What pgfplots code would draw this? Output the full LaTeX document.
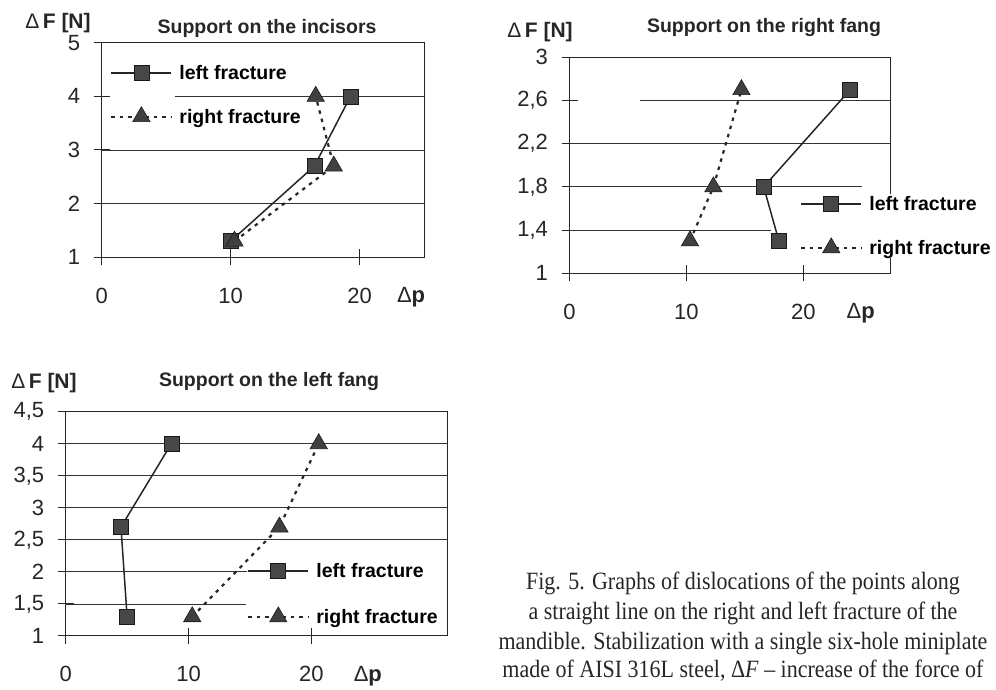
\documentclass[border=0pt]{standalone}
\usepackage{pgfplots}
\pgfplotsset{compat=1.18}
\usepackage{fontspec}
\setmainfont{Liberation Sans}
\newfontfamily\capfont{Liberation Serif}

\tikzset{gridl/.style={black!80, line width=0.9pt}}
\pgfplotsset{
  fracax/.style={
    scale only axis, anchor=south west,
    axis line style={black!85, line width=1pt},
    tick align=center, major tick length=16pt, tick pos=left,
    tick style={black!85, line width=1pt},
    xtick={0,10,20},
    xticklabels={0,10,20},
    ticklabel style={font=\fontsize{22}{22}\selectfont, text=black!85},
    xticklabel style={yshift=-19pt},
    yticklabel style={xshift=-10pt},
    extra x ticks={24},
    extra x tick labels={\textDelta\textbf{p}},
    extra x tick style={major tick length=0pt, tick label style={yshift=-8pt}},
    legend cell align=left,
    legend style={draw=none, fill=none, anchor=north west,
      font=\fontsize{19.5}{20}\selectfont\bfseries,
      row sep=24pt, inner sep=0pt,
      nodes={inner sep=2pt},
      /tikz/every odd column/.append style={column sep=5pt}},
    legend image code/.code={\draw[mark repeat=2, mark phase=2] plot coordinates {(0pt,0pt) (30pt,0pt) (60pt,0pt)};},
  },
  leftfr/.style={black!85, line width=1.5pt, mark=square*, mark size=7.5pt,
    mark options={solid, fill=black!72, draw=black!90, line width=0.6pt}},
  rightfr/.style={black!85, line width=2.2pt, dash pattern=on 3.5pt off 5pt, mark=triangle*, mark size=10pt,
    mark options={solid, fill=black!75, draw=black!90, line width=0.6pt}},
}
\newcommand{\textDelta}{Δ}

\begin{document}
\begin{tikzpicture}
\path[use as bounding box] (0,0) rectangle (996pt,690pt);

% ---------- Plot 1: incisors ----------
\begin{axis}[fracax,
  at={(101.7pt,432.7pt)}, width=322.3pt, height=214.6pt,
  xmin=0, xmax=25, ymin=1, ymax=5,
  ytick={1,2,3,4,5}, yticklabels={1,2,3,4,5},
  legend style={at={(axis description cs:0.026,0.906)}},
]
\draw[gridl] (axis cs:0,2) -- (axis cs:25,2);
\draw[gridl] (axis cs:0,3) -- (axis cs:25,3);
\draw[gridl] (axis cs:5.7,4) -- (axis cs:25,4);
\addplot[leftfr] coordinates {(10,1.3) (16.5,2.7) (19.3,4)};
\addlegendentry{left fracture}
\addplot[rightfr] coordinates {(10.3,1.3) (18,2.7) (16.6,4)};
\addlegendentry{right fracture}
\end{axis}

% ---------- Plot 2: right fang ----------
\begin{axis}[fracax,
  at={(569.5pt,416.7pt)}, width=320.5pt, height=216pt,
  xmin=0, xmax=27.4, ymin=1, ymax=3,
  extra x ticks={24.9},
  ytick={1,1.4,1.8,2.2,2.6,3}, yticklabels={1,{1,4},{1,8},{2,2},{2,6},3},
  legend style={at={(axis description cs:0.719,0.367)}, fill=white},
]
\draw[gridl] (axis cs:0,1.4) -- (axis cs:17.2,1.4);
\draw[gridl] (axis cs:0,1.8) -- (axis cs:25,1.8);
\draw[gridl] (axis cs:0,2.2) -- (axis cs:27.4,2.2);
\draw[gridl] (axis cs:6,2.6) -- (axis cs:27.4,2.6);
\addplot[leftfr] coordinates {(17.9,1.3) (16.6,1.8) (24,2.7)};
\addlegendentry{left fracture}
\addplot[rightfr] coordinates {(10.3,1.3) (12.3,1.8) (14.7,2.7)};
\addlegendentry{right fracture}
\end{axis}

% ---------- Plot 3: left fang ----------
\begin{axis}[fracax,
  at={(65.7pt,54pt)}, width=382pt, height=224.3pt,
  xmin=0, xmax=31.1, ymin=1, ymax=4.5,
  extra x ticks={24.6},
  ytick={1,1.5,2,2.5,3,3.5,4,4.5}, yticklabels={1,{1,5},2,{2,5},3,{3,5},4,{4,5}},
  legend style={at={(axis description cs:0.4746,0.334)}, row sep=26pt},
]
\draw[gridl] (axis cs:0,1.5) -- (axis cs:14.7,1.5);
\draw[gridl] (axis cs:0,2) -- (axis cs:14.8,2);
\draw[gridl] (axis cs:0,2.5) -- (axis cs:31.1,2.5);
\draw[gridl] (axis cs:0,3) -- (axis cs:31.1,3);
\draw[gridl] (axis cs:0,3.5) -- (axis cs:31.1,3.5);
\draw[gridl] (axis cs:0,4) -- (axis cs:31.1,4);
\addplot[leftfr] coordinates {(5,1.3) (4.5,2.7) (8.6,4)};
\addlegendentry{left fracture}
\addplot[rightfr] coordinates {(10.3,1.3) (17.4,2.7) (20.6,4)};
\addlegendentry{right fracture}
\end{axis}

% ---------- titles and axis names ----------
\begin{scope}[every node/.style={inner sep=0pt, text=black!85}]
\node[font=\fontsize{19.5}{20}\selectfont\bfseries] at (267pt,662pt) {Support on the incisors};
\node[font=\fontsize{19.5}{20}\selectfont\bfseries] at (764pt,662pt) {Support on the right fang};
\node[font=\fontsize{19.5}{20}\selectfont\bfseries] at (269pt,308pt) {Support on the left fang};
\node[font=\fontsize{21}{21}\selectfont] at (58pt,667pt) {Δ\,\textbf{F [N]}};
\node[font=\fontsize{21}{21}\selectfont] at (540pt,658pt) {Δ\,\textbf{F [N]}};
\node[font=\fontsize{21}{21}\selectfont] at (44pt,307pt) {Δ\,\textbf{F [N]}};
\end{scope}

% ---------- caption ----------
\begin{scope}[every node/.style={inner sep=0pt, anchor=base, font=\capfont\fontsize{22}{29}\selectfont, text=black!85}]
\node at (743pt,100pt) {\scalebox{1}[1.13]{Fig. 5. Graphs of dislocations of the points along}};
\node at (743pt,70pt) {\scalebox{1}[1.13]{a straight line on the right and left fracture of the}};
\node at (743pt,40pt) {\scalebox{1}[1.13]{mandible. Stabilization with a single six-hole miniplate}};
\node at (743pt,12pt) {\scalebox{1}[1.13]{made of AISI 316L steel, Δ\textit{F} – increase of the force of}};
\end{scope}
\end{tikzpicture}
\end{document}
